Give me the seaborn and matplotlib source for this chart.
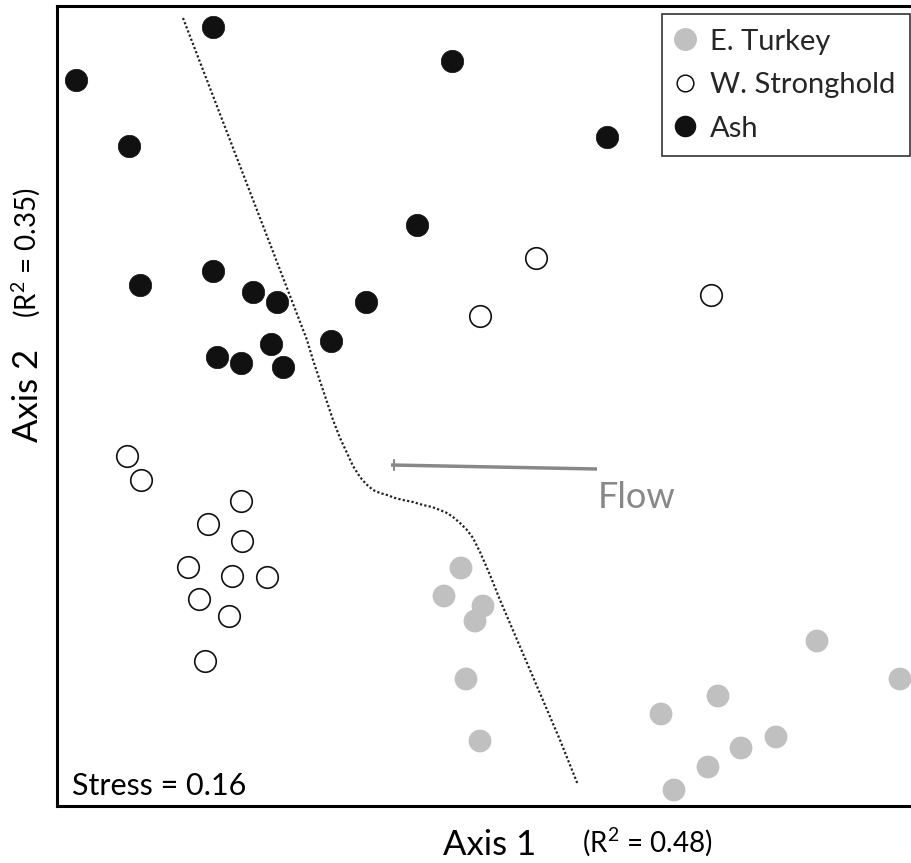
import matplotlib
matplotlib.use("Agg")
import matplotlib.pyplot as plt
import seaborn as sns
import pandas as pd
from matplotlib.lines import Line2D

sns.set_style("white")
plt.rcParams["font.family"] = ["Lato", "DejaVu Sans"]
plt.rcParams["mathtext.fontset"] = "custom"
plt.rcParams["mathtext.rm"] = "Lato"
plt.rcParams["mathtext.it"] = "Lato:italic"
plt.rcParams["mathtext.bf"] = "Lato:bold"

W, H = 912, 863

# NMDS site scores (axis 1, axis 2)
ash_x = [155, 18, 394, 71, 549, 359, 82, 155, 195, 219, 308, 273, 159, 183, 213, 225]
ash_y = [773, 720, 739, 654, 663, 575, 515, 529, 508, 498, 498, 459, 443, 437, 456, 433]

wst_x = [478, 422, 653, 69, 83, 183, 150, 184, 130, 174, 209, 141, 171, 147]
wst_y = [542, 484, 505, 344, 320, 299, 276, 259, 233, 224, 223, 201, 184, 139]

etk_x = [403, 386, 425, 417, 408, 422, 759, 842, 660, 603, 718, 683, 650, 616]
etk_y = [232, 204, 194, 179, 121, 59, 159, 121, 104, 86, 63, 52, 33, 10]

groups = ["E. Turkey", "W. Stronghold", "Ash"]

# Boundary separating the upstream and downstream sites
bound_x = [125, 249, 255, 265, 275, 282, 289, 295, 302, 308, 315, 322, 329, 337,
           345, 355, 365, 374, 382, 389, 395, 402, 409, 415, 422, 432, 442, 457,
           472, 487, 502, 520]
bound_y = [782, 460, 440, 410, 380, 362, 347, 334, 323, 316, 310, 307, 305, 302,
           300, 298, 295, 293, 290, 287, 283, 277, 270, 262, 248, 225, 200, 165,
           130, 95, 60, 15]

# Flow direction arrow
flow_x = [333, 539]
flow_y = [335, 331]

df = pd.concat([
    pd.DataFrame({"ax1": etk_x, "ax2": etk_y, "site": groups[0]}),
    pd.DataFrame({"ax1": wst_x, "ax2": wst_y, "site": groups[1]}),
    pd.DataFrame({"ax1": ash_x, "ax2": ash_y, "site": groups[2]}),
])

fig = plt.figure(figsize=(W / 100, H / 100), dpi=100)
ax = fig.add_axes([57 / W, (H - 806) / H, 862 / W, 800 / H])

styles = {
    "E. Turkey": dict(s=270, color="#c0c0c0", edgecolor="none", linewidth=0),
    "W. Stronghold": dict(s=240, color="white", edgecolor="#111111", linewidth=1.2),
    "Ash": dict(s=260, color="#111111", edgecolor="#111111", linewidth=0.5),
}
for g in groups:
    sns.scatterplot(data=df[df.site == g], x="ax1", y="ax2", ax=ax,
                    legend=False, zorder=3, **styles[g])

ax.plot(bound_x, bound_y, linestyle=(0, (1, 1)), color="#222222", lw=1.6, zorder=2)
ax.plot(flow_x, flow_y, color="#888888", lw=2.5, solid_capstyle="butt", zorder=2)
ax.plot([flow_x[0] + 3, flow_x[0] + 3], [flow_y[0] - 5, flow_y[0] + 5],
        color="#888888", lw=1.5, zorder=2)

ax.set_xlim(-1, 861)
ax.set_ylim(-6, 794)
ax.set_xticks([])
ax.set_yticks([])
ax.set_xlabel("")
ax.set_ylabel("")
for sp in ax.spines.values():
    sp.set_visible(True)
    sp.set_color("black")
    sp.set_linewidth(2.2)

handles = [
    Line2D([], [], marker="o", linestyle="none", markersize=15.5,
           markerfacecolor="#c0c0c0", markeredgecolor="#c0c0c0"),
    Line2D([], [], marker="o", linestyle="none", markersize=12,
           markerfacecolor="white", markeredgecolor="#111111", markeredgewidth=1.1),
    Line2D([], [], marker="o", linestyle="none", markersize=14.5,
           markerfacecolor="#111111", markeredgecolor="#111111"),
]
leg = ax.legend(handles, groups, loc="upper left",
                bbox_to_anchor=(662 / W, 1 - 14 / H), bbox_transform=fig.transFigure,
                fontsize=21, frameon=True, fancybox=False, borderpad=0.5,
                handlelength=0.55, handletextpad=0.6, labelspacing=0.6,
                borderaxespad=0)
leg.get_frame().set_edgecolor("black")
leg.get_frame().set_linewidth(1.2)


def ftext(px, py, s, **kw):
    fig.text(px / W, 1 - py / H, s, **kw)


ftext(598, 508, "Flow", fontsize=26, color="#888888", ha="left", va="baseline")
ftext(72, 795, "Stress = 0.16", fontsize=22, color="black", ha="left", va="baseline")
ftext(490, 855, "Axis 1", fontsize=25, color="black", ha="center", va="baseline")
ftext(647, 852, r"(R$^{2}$ = 0.48)", fontsize=20, color="black", ha="center",
      va="baseline")
ftext(28, 395, "Axis 2", fontsize=25, color="black", ha="center", va="center",
      rotation=90)
ftext(26, 253, r"(R$^{2}$ = 0.35)", fontsize=20, color="black", ha="center",
      va="center", rotation=90)

fig.savefig("out.png", dpi=100, facecolor="white")
